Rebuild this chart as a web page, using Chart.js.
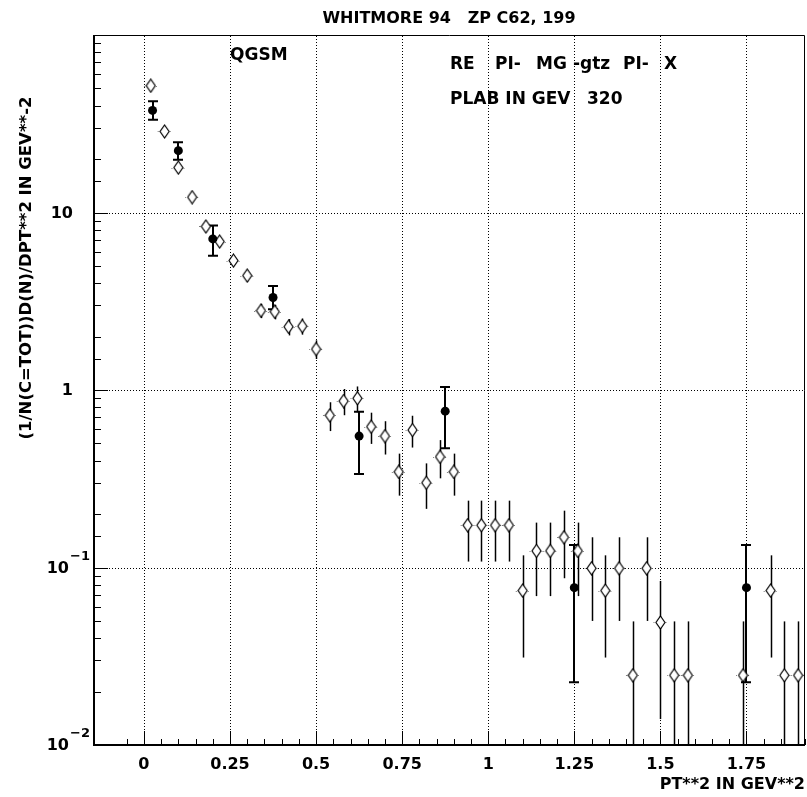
<!DOCTYPE html>
<html>
<head>
<meta charset="utf-8">
<script src="https://cdn.jsdelivr.net/npm/chart.js@4"></script>
<style>
html, body { margin: 0; padding: 0; background: #fff; }
canvas { display: block; }
</style>
</head>
<body>
<canvas id="chartPt" width="807" height="797"></canvas>
<script>
// QGSM (open diamonds), bin centres and values
const qgsmX = [0.02, 0.06, 0.10, 0.14, 0.18, 0.22, 0.26, 0.30, 0.34, 0.38, 0.42, 0.46, 0.50, 0.54, 0.58,
    0.62, 0.66, 0.70, 0.74, 0.78, 0.82, 0.86, 0.90, 0.94, 0.98, 1.02, 1.06, 1.10, 1.14, 1.18, 1.22, 1.26,
    1.30, 1.34, 1.38, 1.42, 1.46, 1.50, 1.54, 1.58, 1.74, 1.82, 1.86, 1.90];
const qgsmY = [51.8, 28.6, 17.9, 12.2, 8.34, 6.86, 5.36, 4.41, 2.80, 2.76, 2.27, 2.29, 1.70, 0.72, 0.867,
    0.898, 0.621, 0.55, 0.346, 0.595, 0.30, 0.42, 0.346, 0.173, 0.173, 0.173, 0.173, 0.0741, 0.124, 0.124, 0.148, 0.124,
    0.099, 0.0741, 0.099, 0.0247, 0.099, 0.049, 0.0247, 0.0247, 0.0247, 0.0741, 0.0247, 0.0247];
const qgsmErr = [1.13, 0.84, 0.66, 0.55, 0.45, 0.41, 0.36, 0.33, 0.26, 0.26, 0.24, 0.24, 0.205, 0.133, 0.146,
    0.149, 0.124, 0.117, 0.092, 0.121, 0.086, 0.102, 0.092, 0.065, 0.065, 0.065, 0.065, 0.043, 0.055, 0.055, 0.061, 0.055,
    0.049, 0.043, 0.049, 0.025, 0.049, 0.035, 0.025, 0.025, 0.025, 0.043, 0.025, 0.025];
const qgsmHalfBin = 0.02;

// measured points (filled circles)
const dataX = [0.025, 0.1, 0.2, 0.375, 0.625, 0.875, 1.25, 1.75];
const dataY = [37.6, 22.3, 7.1, 3.32, 0.55, 0.76, 0.077, 0.077];
const dataLo = [33.3, 19.8, 5.7, 2.85, 0.336, 0.469, 0.0226, 0.0226];
const dataHi = [42.3, 24.9, 8.45, 3.86, 0.755, 1.04, 0.134, 0.134];

// y tick labels (decades)
const yTickVals = [0.01, 0.1, 1, 10];
const yTickBase = ['10', '10', '1', '10'];
const yTickExp = ['-2', '-1', '', ''];

const FONT = '"DejaVu Sans", sans-serif';

function isMajorX(v) {
    const r = v / 0.25;
    return Math.abs(r - Math.round(r)) < 1e-6;
}
function isDecade(v) {
    const l = Math.log10(v);
    return Math.abs(l - Math.round(l)) < 1e-6;
}

// open diamond marker, a bit taller than wide
const diamond = document.createElement('canvas');
diamond.width = 11;
diamond.height = 15;
(function () {
    const c = diamond.getContext('2d');
    c.beginPath();
    c.moveTo(5.5, 1);
    c.lineTo(10, 7.5);
    c.lineTo(5.5, 14);
    c.lineTo(1, 7.5);
    c.closePath();
    c.fillStyle = '#fff';
    c.fill();
    c.lineWidth = 1.2;
    c.strokeStyle = '#000';
    c.stroke();
})();

const extras = {
    id: 'extras',
    beforeDatasetsDraw(chart) {
        const {ctx, scales: {x, y}, chartArea: a} = chart;
        ctx.save();
        ctx.beginPath();
        ctx.rect(a.left, a.top, a.right - a.left, a.bottom - a.top);
        ctx.clip();

        // dotted grid at major ticks
        ctx.strokeStyle = '#000';
        ctx.lineWidth = 1;
        ctx.setLineDash([1, 2]);
        x.ticks.forEach(t => {
            if (!isMajorX(t.value) || t.value < -0.1) return;
            const px = Math.round(x.getPixelForValue(t.value)) + 0.5;
            ctx.beginPath();
            ctx.moveTo(px, a.bottom);
            ctx.lineTo(px, a.top);
            ctx.stroke();
        });
        y.ticks.forEach(t => {
            if (!isDecade(t.value) || t.value <= y.min || t.value >= y.max) return;
            const py = Math.round(y.getPixelForValue(t.value)) + 0.5;
            ctx.beginPath();
            ctx.moveTo(a.left, py);
            ctx.lineTo(a.right, py);
            ctx.stroke();
        });

        // bin widths of the QGSM points
        ctx.strokeStyle = '#777';
        qgsmX.forEach((v, i) => {
            const py = Math.round(y.getPixelForValue(qgsmY[i])) + 0.5;
            ctx.beginPath();
            ctx.moveTo(x.getPixelForValue(v - qgsmHalfBin), py);
            ctx.lineTo(x.getPixelForValue(v + qgsmHalfBin), py);
            ctx.stroke();
        });
        ctx.setLineDash([]);

        // QGSM vertical errors
        ctx.strokeStyle = '#000';
        ctx.lineWidth = 1.5;
        qgsmX.forEach((v, i) => {
            const px = Math.round(x.getPixelForValue(v)) + 0.5;
            const lo = Math.max(qgsmY[i] - qgsmErr[i], y.min);
            const hi = qgsmY[i] + qgsmErr[i];
            ctx.beginPath();
            ctx.moveTo(px, y.getPixelForValue(lo));
            ctx.lineTo(px, y.getPixelForValue(hi));
            ctx.stroke();
        });

        // data error bars with caps
        ctx.lineWidth = 2;
        dataX.forEach((v, i) => {
            const px = Math.round(x.getPixelForValue(v));
            const pl = y.getPixelForValue(Math.max(dataLo[i], y.min));
            const ph = y.getPixelForValue(dataHi[i]);
            ctx.beginPath();
            ctx.moveTo(px, pl);
            ctx.lineTo(px, ph);
            ctx.moveTo(px - 5, pl);
            ctx.lineTo(px + 5, pl);
            ctx.moveTo(px - 5, ph);
            ctx.lineTo(px + 5, ph);
            ctx.stroke();
        });
        ctx.restore();
    },
    afterDraw(chart) {
        const {ctx, scales: {x, y}, chartArea: a} = chart;
        ctx.save();
        ctx.strokeStyle = '#000';

        // frame: left and bottom heavier
        ctx.lineWidth = 1;
        ctx.beginPath();
        ctx.moveTo(a.left, a.top + 0.5);
        ctx.lineTo(a.right - 0.5, a.top + 0.5);
        ctx.lineTo(a.right - 0.5, a.bottom);
        ctx.stroke();
        ctx.lineWidth = 2;
        ctx.beginPath();
        ctx.moveTo(a.left, a.top);
        ctx.lineTo(a.left, a.bottom);
        ctx.lineTo(a.right, a.bottom);
        ctx.stroke();

        // inner ticks
        ctx.lineWidth = 1;
        x.ticks.forEach(t => {
            const px = Math.round(x.getPixelForValue(t.value)) + 0.5;
            const len = isMajorX(t.value) ? 14 : 6;
            ctx.beginPath();
            ctx.moveTo(px, a.bottom);
            ctx.lineTo(px, a.bottom - len);
            ctx.stroke();
        });
        y.ticks.forEach(t => {
            const py = Math.round(y.getPixelForValue(t.value)) + 0.5;
            const len = isDecade(t.value) ? 14 : 7;
            ctx.beginPath();
            ctx.moveTo(a.left, py);
            ctx.lineTo(a.left + len, py);
            ctx.stroke();
        });

        ctx.fillStyle = '#000';
        // y tick labels
        ctx.textBaseline = 'middle';
        yTickVals.forEach((v, i) => {
            const py = y.getPixelForValue(v);
            ctx.font = 'bold 16px ' + FONT;
            ctx.textAlign = 'right';
            if (yTickExp[i]) {
                ctx.fillText(yTickBase[i], 69, py + 1);
                ctx.font = 'bold 13px ' + FONT;
                ctx.textAlign = 'left';
                ctx.fillText(yTickExp[i].replace('-', '\u2212'), 70, py - 11);
            } else {
                ctx.fillText(yTickBase[i], 73, py + 1);
            }
        });

        // title and annotations
        ctx.font = 'bold 16px ' + FONT;
        ctx.textAlign = 'center';
        ctx.fillText('WHITMORE 94   ZP C62, 199', 449, 19);
        ctx.textAlign = 'left';
        ctx.font = 'bold 17px ' + FONT;
        ctx.fillText('QGSM', 230, 56);
        ctx.fillText('RE', 450, 65);
        ctx.fillText('PI-', 495, 65);
        ctx.fillText('MG', 536, 65);
        ctx.fillText('-gtz', 573, 65);
        ctx.fillText('PI-', 623, 65);
        ctx.fillText('X', 664, 65);
        ctx.fillText('PLAB IN GEV', 450, 100);
        ctx.fillText('320', 587, 100);

        // axis titles
        ctx.font = 'bold 16px ' + FONT;
        ctx.textAlign = 'right';
        ctx.fillText('PT**2 IN GEV**2', 805, 785);
        ctx.save();
        ctx.translate(27, 268);
        ctx.rotate(-Math.PI / 2);
        ctx.textAlign = 'center';
        ctx.font = 'bold 16.5px ' + FONT;
        ctx.fillText('(1/N(C=TOT))D(N)/DPT**2 IN GEV**-2', 0, 0);
        ctx.restore();
        ctx.restore();
    }
};

const ptChart = new Chart(document.getElementById('chartPt').getContext('2d'), {
    type: 'scatter',
    data: {
        datasets: [{
            label: 'DATA',
            data: dataX.map((v, i) => ({x: v, y: dataY[i]})),
            pointStyle: 'circle',
            pointRadius: 4.5,
            backgroundColor: '#000',
            borderColor: '#000',
            borderWidth: 0
        }, {
            label: 'QGSM',
            data: qgsmX.map((v, i) => ({x: v, y: qgsmY[i]})),
            pointStyle: diamond,
            pointRadius: 6
        }]
    },
    options: {
        responsive: false,
        animation: false,
        devicePixelRatio: 1,
        layout: {autoPadding: false, padding: {top: 35, right: 2, left: 0, bottom: 0}},
        plugins: {
            legend: {display: false},
            tooltip: {enabled: false}
        },
        scales: {
            x: {
                type: 'linear',
                min: -0.145,
                max: 1.92,
                afterFit(scale) {
                    scale.height = 52;
                    scale.paddingLeft = 0;
                    scale.paddingRight = 0;
                },
                border: {display: false},
                grid: {display: false, drawTicks: false},
                ticks: {
                    stepSize: 0.05,
                    autoSkip: false,
                    maxRotation: 0,
                    padding: 10,
                    color: '#000',
                    font: {family: FONT, size: 16, weight: 'bold'},
                    callback: v => isMajorX(v) ? String(Math.round(v * 100) / 100) : ''
                }
            },
            y: {
                type: 'logarithmic',
                min: 0.01,
                max: 100,
                afterFit(scale) {
                    scale.width = 94;
                    scale.paddingTop = 0;
                    scale.paddingBottom = 0;
                },
                border: {display: false},
                grid: {display: false, drawTicks: false},
                ticks: {display: false}
            }
        }
    },
    plugins: [extras]
});
</script>
</body>
</html>
